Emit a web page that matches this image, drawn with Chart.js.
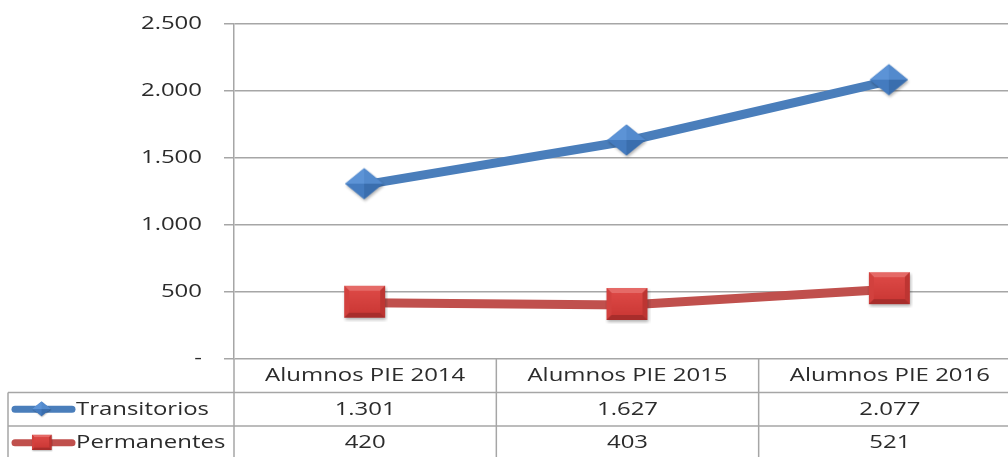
<!DOCTYPE html>
<html>
<head>
<meta charset="utf-8">
<script src="https://cdn.jsdelivr.net/npm/chart.js@4"></script>
<style>
  html, body { margin: 0; padding: 0; background: #fff; overflow: hidden; }
  #wrap { width: 1008px; height: 457px; overflow: hidden; }
  canvas { display: block; }
</style>
</head>
<body>
<div id="wrap"><canvas id="myChart" width="1034" height="457" style="width:1034px;height:457px"></canvas></div>
<script>
// CHART DATA
const categories = ['Alumnos PIE 2014', 'Alumnos PIE 2015', 'Alumnos PIE 2016'];
const seriesNames = ['Transitorios', 'Permanentes'];
const transitorios = [1301, 1627, 2077];
const permanentes = [420, 403, 521];
const yTicks = [0, 500, 1000, 1500, 2000, 2500];

const BLUE = '#4a7ebb';
const RED = '#c0504d';
const GRID = '#a6a6a6';
const TEXT = '#2b2b2b';
const FONT = '19px "Open Sans"';
const STRETCH = 1.26;

// number format like 1.301, zero as "-"
function fmt(v) {
  if (v === 0) return '-';
  return String(v).replace(/\B(?=(\d{3})+(?!\d))/g, '.');
}

// MARKER IMAGES (bevelled diamond and square)
function makeDiamond() {
  const c = document.createElement('canvas');
  c.width = 44; c.height = 38;
  const g = c.getContext('2d');
  const cx = 21, cy = 18, hw = 19, hh = 15.5;
  g.save();
  g.shadowColor = 'rgba(0,0,0,0.3)';
  g.shadowBlur = 3; g.shadowOffsetX = 1; g.shadowOffsetY = 2;
  g.beginPath();
  g.moveTo(cx, cy - hh); g.lineTo(cx + hw, cy); g.lineTo(cx, cy + hh); g.lineTo(cx - hw, cy); g.closePath();
  g.fillStyle = '#4479bb';
  g.fill();
  g.restore();
  const facets = [
    [[cx, cy - hh], [cx - hw, cy], '#5c93d6'],
    [[cx, cy - hh], [cx + hw, cy], '#538acd'],
    [[cx, cy + hh], [cx - hw, cy], '#447bbf'],
    [[cx, cy + hh], [cx + hw, cy], '#3a6eae']
  ];
  facets.forEach(f => {
    g.beginPath();
    g.moveTo(cx, cy); g.lineTo(f[0][0], f[0][1]); g.lineTo(f[1][0], f[1][1]); g.closePath();
    g.fillStyle = f[2];
    g.fill();
  });
  return c;
}

function makeSquare() {
  const c = document.createElement('canvas');
  c.width = 46; c.height = 38;
  const g = c.getContext('2d');
  const x = 2, y = 2, w = 41, h = 32, b = 5;
  g.save();
  g.shadowColor = 'rgba(0,0,0,0.3)';
  g.shadowBlur = 3; g.shadowOffsetX = 1; g.shadowOffsetY = 2;
  g.fillStyle = '#c43a37';
  g.fillRect(x, y, w, h);
  g.restore();
  const quad = (pts, col) => {
    g.beginPath();
    g.moveTo(pts[0][0], pts[0][1]);
    for (let i = 1; i < pts.length; i++) g.lineTo(pts[i][0], pts[i][1]);
    g.closePath();
    g.fillStyle = col;
    g.fill();
  };
  quad([[x, y], [x + w, y], [x + w - b, y + b], [x + b, y + b]], '#e56a67');
  quad([[x, y], [x + b, y + b], [x + b, y + h - b], [x, y + h]], '#d2413e');
  quad([[x + w, y], [x + w, y + h], [x + w - b, y + h - b], [x + w - b, y + b]], '#bd3532');
  quad([[x, y + h], [x + b, y + h - b], [x + w - b, y + h - b], [x + w, y + h]], '#a82d2b');
  const grad = g.createLinearGradient(0, y + b, 0, y + h - b);
  grad.addColorStop(0, '#dc4845');
  grad.addColorStop(1, '#cc3936');
  g.fillStyle = grad;
  g.fillRect(x + b, y + b, w - 2 * b, h - 2 * b);
  return c;
}

const diamondImg = makeDiamond();
const squareImg = makeSquare();

function stretchText(ctx, text, x, y, align) {
  ctx.save();
  ctx.translate(x, y);
  ctx.scale(STRETCH, 1);
  ctx.textAlign = align;
  ctx.fillText(text, 0, 0);
  ctx.restore();
}

// DATA TABLE + Y LABELS PLUGIN
const tablePlugin = {
  id: 'dataTable',
  afterDraw(chart) {
    const ctx = chart.ctx;
    const area = chart.chartArea;
    const xs = chart.scales.x;
    const ys = chart.scales.y;
    const W = chart.width;
    const Hc = chart.height;
    const rowH = 33.5;
    const r0 = area.bottom;
    const r1 = r0 + rowH;
    const r2 = r1 + rowH;
    const tableLeft = 8;

    // y tick labels
    ctx.save();
    ctx.fillStyle = TEXT;
    ctx.font = FONT;
    ctx.textBaseline = 'middle';
    ys.ticks.forEach(t => {
      stretchText(ctx, fmt(t.value), 202, ys.getPixelForValue(t.value), 'right');
    });
    ctx.restore();

    // table lines
    ctx.save();
    ctx.strokeStyle = GRID;
    ctx.lineWidth = 1.5;
    ctx.beginPath();
    ctx.moveTo(area.left, r0); ctx.lineTo(area.left, Hc);
    ctx.moveTo(tableLeft, r1); ctx.lineTo(W, r1);
    ctx.moveTo(tableLeft, r2); ctx.lineTo(W, r2);
    ctx.moveTo(tableLeft, r1); ctx.lineTo(tableLeft, Hc);
    for (let i = 0; i < categories.length - 1; i++) {
      const bx = (xs.getPixelForValue(i) + xs.getPixelForValue(i + 1)) / 2;
      ctx.moveTo(bx, r0); ctx.lineTo(bx, Hc);
    }
    ctx.stroke();
    ctx.restore();

    // header + values
    ctx.save();
    ctx.fillStyle = TEXT;
    ctx.font = FONT;
    ctx.textBaseline = 'middle';
    categories.forEach((c, i) => {
      const cx = xs.getPixelForValue(i);
      stretchText(ctx, c, cx, r0 + rowH / 2, 'center');
      stretchText(ctx, fmt(transitorios[i]), cx, r1 + rowH / 2, 'center');
      stretchText(ctx, fmt(permanentes[i]), cx, r2 + rowH / 2, 'center');
    });

    // legend keys
    const keys = [[BLUE, diamondImg, r1], [RED, squareImg, r2]];
    keys.forEach((k, i) => {
      const cy = k[2] + rowH / 2;
      ctx.strokeStyle = k[0];
      ctx.lineWidth = 7;
      ctx.lineCap = 'round';
      ctx.beginPath();
      ctx.moveTo(15, cy); ctx.lineTo(72, cy);
      ctx.stroke();
      const img = k[1];
      const sc = 0.48;
      ctx.drawImage(img, 42 - img.width * sc / 2, cy - img.height * sc / 2, img.width * sc, img.height * sc);
      ctx.fillStyle = TEXT;
      stretchText(ctx, seriesNames[i], 76, cy, 'left');
    });
    ctx.restore();
  }
};

const ctx = document.getElementById('myChart').getContext('2d');
const myChart = new Chart(ctx, {
  type: 'line',
  data: {
    labels: categories,
    datasets: [{
      label: seriesNames[0],
      data: transitorios,
      borderColor: BLUE,
      backgroundColor: BLUE,
      borderWidth: 9,
      pointStyle: diamondImg,
      tension: 0
    }, {
      label: seriesNames[1],
      data: permanentes,
      borderColor: RED,
      backgroundColor: RED,
      borderWidth: 9,
      pointStyle: squareImg,
      tension: 0
    }]
  },
  options: {
    responsive: false,
    animation: false,
    devicePixelRatio: 1,
    events: [],
    layout: { padding: { top: 24, bottom: 98, right: 0, left: 0 } },
    plugins: {
      legend: { display: false },
      tooltip: { enabled: false }
    },
    scales: {
      x: {
        type: 'category',
        offset: true,
        display: false
      },
      y: {
        min: 0,
        max: 2500,
        afterBuildTicks(scale) {
          scale.ticks = yTicks.map(v => ({ value: v }));
        },
        afterFit(scale) { scale.width = 234; },
        ticks: { display: false },
        border: { color: GRID, width: 1.5 },
        grid: { color: GRID, lineWidth: 1.5, tickLength: 10, drawTicks: true }
      }
    }
  },
  plugins: [tablePlugin]
});
</script>
</body>
</html>
